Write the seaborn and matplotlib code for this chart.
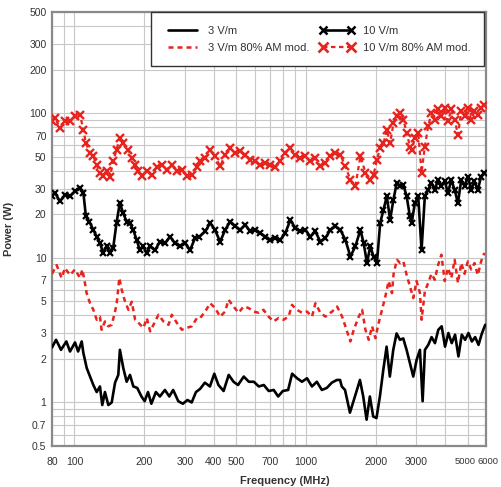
import matplotlib
matplotlib.use("Agg")
import matplotlib.pyplot as plt
from matplotlib.lines import Line2D
from matplotlib.ticker import FixedLocator, FixedFormatter, NullFormatter
import seaborn as sns

# 3 V/m, CW
freq_3 = [80, 83.3, 87.5, 92.3, 95.7, 100.6, 103.7, 107.5, 109.3, 113,
          116.8, 120.7, 124.8, 128.9, 131.9, 135.5, 140.1, 144.9, 149.8, 154.7,
          157.2, 162.6, 168.1, 173.8, 179.7, 186.8, 194.8, 201.1, 207.9, 215,
          224.8, 234, 246, 257, 267, 281, 294, 308, 321, 335,
          349, 366, 385, 402, 419, 441, 464, 487, 509, 539,
          567, 596, 626, 658, 691, 726, 759, 795, 838, 872,
          916, 962, 1011, 1062, 1115, 1172, 1231, 1294, 1360, 1405,
          1429, 1476, 1550, 1629, 1712, 1769, 1829, 1890, 1953, 2018,
          2088, 2160, 2232, 2305, 2385, 2465, 2549, 2634, 2723, 2815,
          2910, 3009, 3110, 3194, 3268, 3378, 3493, 3611, 3734, 3861,
          3991, 4127, 4267, 4411, 4561, 4715, 4875, 5040, 5211, 5387,
          5570, 5759, 5954]
power_3 = [2.4, 2.71, 2.31, 2.64, 2.25, 2.6, 2.25, 2.64, 2.2, 1.73,
           1.51, 1.32, 1.18, 1.29, 0.96, 1.18, 0.96, 1.0, 1.37, 1.55,
           2.31, 1.73, 1.39, 1.55, 1.29, 1.26, 1.10, 1.02, 1.18, 0.98,
           1.18, 1.10, 1.22, 1.10, 1.22, 1.02, 0.98, 1.04, 1.0, 1.18,
           1.24, 1.37, 1.29, 1.58, 1.32, 1.20, 1.55, 1.39, 1.32, 1.51,
           1.39, 1.39, 1.29, 1.32, 1.20, 1.22, 1.10, 1.20, 1.22, 1.58,
           1.47, 1.39, 1.47, 1.29, 1.39, 1.22, 1.26, 1.37, 1.43, 1.43,
           1.29, 1.22, 0.85, 1.10, 1.43, 1.10, 0.76, 1.10, 0.80, 0.78,
           1.10, 1.68, 2.43, 1.51, 2.31, 3.0, 2.71, 2.77, 2.31, 1.87,
           1.51, 1.97, 2.31, 1.02, 2.31, 2.50, 2.83, 2.57, 3.18, 3.36,
           2.43, 3.02, 2.57, 2.94, 2.08, 2.94, 2.71, 3.02, 2.64, 2.83,
           2.50, 3.0, 3.44]

# 3 V/m, 80% AM
freq_3am = [80, 83.8, 88.0, 91.0, 95.7, 100.6, 105.7, 108.2, 111.0, 112.9,
            116.8, 120.7, 124.8, 128.9, 131.0, 135.5, 140.1, 144.9, 149.8, 152.3,
            156.3, 160.1, 165.5, 171.1, 176.9, 182.9, 189.1, 198.8, 205.4, 212.4,
            223.2, 230.7, 242.5, 254.9, 263.5, 277, 291.1, 306, 321.6, 338,
            349, 367, 386, 405, 426, 448, 463, 487, 512, 538,
            565, 594, 625, 656, 690, 725, 762, 801, 842, 871,
            915, 962, 1011, 1063, 1099, 1155, 1214, 1298, 1364, 1434,
            1481, 1557, 1610, 1692, 1750, 1808, 1869, 1932, 1997, 2063,
            2133, 2204, 2278, 2355, 2393, 2474, 2551, 2636, 2725, 2815,
            2910, 3008, 3110, 3162, 3265, 3375, 3488, 3604, 3725, 3850,
            3979, 4112, 4250, 4392, 4539, 4691, 4848, 5010, 5178, 5351,
            5530, 5715, 5907]
power_3am = [7.75, 8.9, 7.25, 8.5, 7.6, 8.3, 7.25, 8.3, 6.7, 5.7,
             4.85, 4.37, 3.73, 3.92, 3.18, 3.63, 3.36, 3.44, 4.25, 4.85,
             7.25, 6.0, 4.97, 4.37, 4.97, 3.73, 3.55, 3.28, 3.83, 3.10,
             3.63, 4.04, 3.63, 3.44, 4.04, 3.55, 3.18, 3.28, 3.36, 3.83,
             3.83, 4.25, 4.85, 4.5, 3.92, 4.25, 5.13, 4.6, 4.17, 4.6,
             4.5, 4.25, 4.17, 4.37, 3.92, 3.63, 3.83, 3.73, 3.92, 4.73,
             4.37, 4.17, 4.25, 3.92, 4.85, 4.17, 3.92, 4.25, 4.6, 3.92,
             3.36, 2.64, 3.18, 3.92, 4.37, 3.18, 2.71, 3.36, 2.78, 3.55,
             4.37, 5.4, 6.9, 5.7, 7.75, 9.7, 9.2, 9.45, 7.6, 6.35,
             5.27, 6.9, 5.7, 3.73, 5.85, 6.7, 7.75, 7.05, 8.9, 10.5,
             6.9, 8.5, 7.25, 9.7, 6.7, 9.2, 7.75, 9.45, 8.3, 9.2,
             7.6, 9.45, 10.8]

# 10 V/m, CW
freq_10 = [80, 82.4, 86.6, 91.0, 95.7, 100.6, 105.7, 109.3, 112.1, 115.9,
           120.7, 124.8, 128.9, 133.2, 137.7, 142.3, 147.0, 152.0, 157.0, 162.4,
           168.0, 173.6, 179.5, 185.6, 191.8, 198.3, 205, 212, 223, 234,
           246, 259, 272, 286, 301, 316, 332, 347,
           367, 386, 405, 426, 448, 471, 495, 520, 547, 575,
           604, 635, 668, 702, 738, 775, 815, 857, 900, 946,
           995, 1045, 1099, 1155, 1214, 1276, 1341, 1409,
           1481, 1557, 1636, 1720, 1777, 1836, 1897, 1961, 2027, 2094,
           2164, 2237, 2311, 2389, 2469, 2551, 2636, 2725, 2815, 2863,
           2958, 3057, 3160, 3265, 3375, 3488, 3604, 3725, 3850, 3979,
           4112, 4250, 4392, 4539, 4691, 4848, 5010, 5178, 5351, 5530,
           5715, 5907]
power_10 = [26.6, 28.2, 24.5, 27.3, 26.6, 28.9, 30.5, 28.2, 19.3, 17.8,
            15.6, 14.0, 12.6, 10.8, 12.0, 10.8, 11.7, 17.4, 23.9, 20.4,
            17.8, 17.4, 15.6, 13.3, 11.3, 12.0, 10.8, 12.0, 11.3, 12.9,
            12.6, 14.0, 12.6, 12.0, 12.6, 11.3, 13.7, 14.0,
            15.2, 17.4, 15.6, 12.9, 15.6, 17.8, 16.5, 15.6, 16.9, 15.2,
            15.6, 14.8, 14.0, 13.3, 13.7, 13.3, 14.8, 18.3, 16.0, 15.2,
            15.6, 14.0, 15.2, 12.9, 13.7, 15.6, 16.5, 15.6,
            13.3, 10.2, 12.0, 15.6, 12.6, 9.2, 12.0, 10.2, 9.2, 17.4,
            21.5, 26.6, 18.3, 25.2, 33.0, 31.3, 32.0, 26.6, 19.3, 17.4,
            23.9, 26.6, 11.3, 26.6, 29.5, 33.0, 29.5, 34.6, 31.3, 33.7,
            28.2, 34.6, 29.5, 23.9, 34.6, 31.3, 36.4, 29.5, 33.7, 29.5,
            36.4, 38.4]

# 10 V/m, 80% AM
freq_10am = [80, 82.4, 86.6, 91.0, 95.7, 100.6, 105.7, 109.3, 112.1, 116.8,
             120.7, 124.8, 128.9, 133.2, 137.7, 142.3, 147.0, 152.0, 157.0, 162.4,
             171.1, 176.9, 182.9, 189.1, 195.5, 205.4, 215.7, 226.6, 238.2, 250.4,
             263.5, 277, 291.1, 306, 321.6, 338,
             349, 367, 386, 405, 426, 448, 471, 495, 520, 547,
             575, 604, 635, 668, 702, 738, 775, 815, 857, 900,
             946, 995, 1045, 1099, 1155, 1214, 1276, 1341, 1409,
             1481, 1557, 1636, 1720, 1808, 1897, 1961, 2027, 2094, 2164,
             2237, 2311, 2389, 2469, 2551, 2636, 2725, 2815, 2863, 2958,
             3057, 3160, 3265, 3375, 3488, 3604, 3725, 3850, 3979, 4112,
             4250, 4392, 4539, 4691, 4848, 5010, 5178, 5351, 5530, 5715,
             5907]
power_10am = [88, 93.2, 78.6, 88, 88, 95.5, 97.6, 76.8, 61.8, 53.0,
              50.3, 44.0, 38.8, 36.9, 39.9, 36.0, 46.4, 55.8, 67.2, 61.8,
              55.8, 49.0, 44.0, 39.9, 36.9, 39.9, 37.5, 42.1, 44.0, 40.6,
              44.0, 39.9, 40.6, 36.9, 37.5, 42.1,
              46.4, 49.0, 55.8, 50.3, 42.8, 51.6, 57.4, 53.0, 54.3, 51.6,
              47.6, 46.4, 44.0, 45.2, 44.0, 42.1, 46.4, 53.0, 57.4, 51.6,
              49.0, 50.3, 46.4, 49.0, 42.8, 45.2, 50.3, 53.0, 51.6,
              42.8, 34.6, 31.3, 50.3, 38.8, 34.6, 37.5, 47.6, 57.4, 61.8,
              76.8, 61.8, 85.2, 95.5, 100.5, 90.1, 73.4, 58.7, 55.8, 67.2,
              73.4, 38.8, 58.7, 81.1, 100.5, 90.1, 106, 95.5, 109, 88,
              106, 90.1, 70.9, 103, 95.5, 109, 90.1, 103, 97.6, 109,
              114]

x_major = [80, 100, 200, 300, 400, 500, 700, 1000, 2000, 3000, 5000, 6000]
x_labels = ["80", "100", "200", "300", "400", "500", "700", "1000", "2000",
            "3000", "", ""]
x_minor = [90, 600, 800, 900, 4000]
y_major = [0.5, 0.7, 1, 2, 3, 5, 7, 10, 20, 30, 50, 70, 100, 200, 300, 500]
y_minor = [0.6, 0.8, 0.9, 4, 6, 8, 9, 40, 60, 80, 90, 400]
y_labels = ["0.5", "0.7", "1", "2", "3", "5", "7", "10", "20", "30", "50",
            "70", "100", "200", "300", "500"]

sns.set_style("white")
plt.rcParams['font.family'] = ['Liberation Sans', 'DejaVu Sans']

RED = '#e8231e'
DASH = (0, (2, 1.6))
fig = plt.figure(figsize=(5.01, 4.87), dpi=100)
ax = fig.add_axes([52 / 501, 1 - 446 / 487, 434 / 501, 434 / 487])

sns.lineplot(x=freq_3, y=power_3, ax=ax, color='black', lw=1.9,
             estimator=None, zorder=4)
sns.lineplot(x=freq_3am, y=power_3am, ax=ax, color=RED, lw=1.8,
             linestyle=DASH, estimator=None, zorder=3)
sns.lineplot(x=freq_10, y=power_10, ax=ax, color='black', lw=1.9,
             marker='x', markersize=5, markeredgewidth=1.6,
             markeredgecolor='black', markevery=1, estimator=None, zorder=4)
sns.lineplot(x=freq_10am, y=power_10am, ax=ax, color=RED, lw=1.6,
             linestyle=DASH, marker='x', markersize=5.5, markeredgewidth=1.7,
             markeredgecolor=RED, markevery=1, estimator=None, zorder=3)

ax.set_xscale('log')
ax.set_yscale('log')
ax.set_xlim(80, 6000)
ax.set_ylim(0.5, 500)

ax.xaxis.set_major_locator(FixedLocator(x_major))
ax.xaxis.set_major_formatter(FixedFormatter(x_labels))
ax.xaxis.set_minor_locator(FixedLocator(x_minor))
ax.xaxis.set_minor_formatter(NullFormatter())
ax.yaxis.set_major_locator(FixedLocator(y_major))
ax.yaxis.set_major_formatter(FixedFormatter(y_labels))
ax.yaxis.set_minor_locator(FixedLocator(y_minor))
ax.yaxis.set_minor_formatter(NullFormatter())

# the last two labels sit very close together, as in the original
for val, dx in [(5000, -1.5), (6000, 1.5)]:
    ax.annotate(str(val), xy=(val, 0), xycoords=('data', 'axes fraction'),
                xytext=(dx, -8), textcoords='offset points', ha='center',
                va='top', fontsize=6.8, color='#333333')

ax.grid(True, which='both', color='#c8c8c8', lw=0.8)
ax.set_axisbelow(True)
ax.tick_params(axis='both', which='both', length=0, labelsize=7.5,
               labelcolor='#333333')
ax.tick_params(axis='x', pad=8)
ax.tick_params(axis='y', pad=4)

for s in ax.spines.values():
    s.set_color('#8a8a8a')
    s.set_linewidth(1.6)

ax.set_xlabel('Frequency (MHz)', fontsize=8, fontweight='bold', color='#333333')
ax.set_ylabel('Power (W)', fontsize=8, fontweight='bold', color='#333333')
ax.xaxis.set_label_coords(0.537, -0.068)
ax.yaxis.set_label_coords(-0.088, 0.5)

handles = [
    Line2D([], [], color='black', lw=1.9),
    Line2D([], [], color=RED, lw=1.8, linestyle=DASH),
    Line2D([], [], color='black', lw=1.9, marker='x', markersize=6,
           markeredgewidth=1.8),
    Line2D([], [], color=RED, lw=1.6, linestyle=DASH, marker='x',
           markersize=6.5, markeredgewidth=1.9),
]
labels = ['3 V/m', '3 V/m 80% AM mod.', '10 V/m', '10 V/m 80% AM mod.']
leg = ax.legend(handles, labels, ncol=2, loc='upper right',
                bbox_to_anchor=(484 / 501, 1 - 12 / 487),
                bbox_transform=fig.transFigure, fontsize=8, numpoints=2,
                handlelength=3.2, handletextpad=0.7, columnspacing=0.9,
                frameon=True, fancybox=False, borderpad=1.25, labelspacing=0.6,
                borderaxespad=0, labelcolor='#333333')
leg.get_frame().set_edgecolor('#333333')
leg.get_frame().set_linewidth(1.0)
leg.get_frame().set_alpha(1)

fig.savefig('out.png', dpi=100)
